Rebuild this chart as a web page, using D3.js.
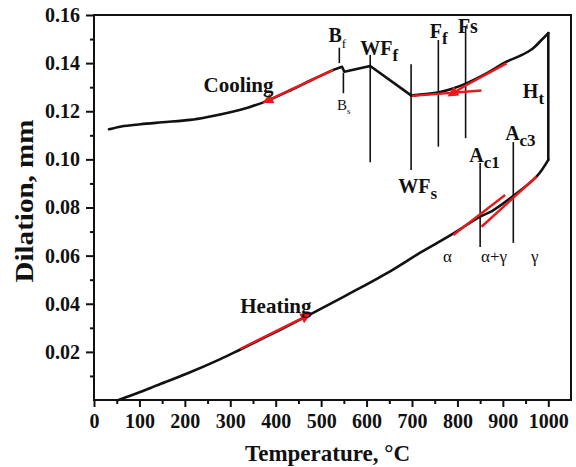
<!DOCTYPE html>
<html>
<head>
<meta charset="utf-8">
<script src="https://cdn.jsdelivr.net/npm/d3@7"></script>
<style>
  body { margin: 0; background: #fff; }
  svg { display: block; }
  text { font-family: "Liberation Serif", "Times New Roman", serif; }
</style>
</head>
<body>
<div id="chart"></div>
<script>
// colours
var black = '#111';
var red = '#e8191c';

// heating run (temperature, dilation)
var heatT = [54, 100, 139, 205, 278, 322, 410, 476, 560, 652, 718, 784, 850, 876, 916, 974, 1000, 1000];
var heatD = [0, 0.0032, 0.0061, 0.0110, 0.0170, 0.0210, 0.0292, 0.0356, 0.0440, 0.0535, 0.0612, 0.0684, 0.0762, 0.0785, 0.0838, 0.0928, 0.0998, 0.1525];

// cooling run
var coolT = [1000, 985, 966, 940, 908, 865, 820, 790, 762, 730, 698, 608, 551, 546, 527, 480, 430, 377, 340, 300, 250, 212, 150, 102, 60, 33];
var coolD = [0.1525, 0.1496, 0.1461, 0.1432, 0.1406, 0.1358, 0.1316, 0.1295, 0.128, 0.1271, 0.1266, 0.1388, 0.1364, 0.1385, 0.1372, 0.1331, 0.1285, 0.124, 0.1216, 0.1196, 0.1176, 0.1164, 0.1154, 0.1146, 0.1137, 0.1125];
// indices where the cooling trace has sharp corners (WFs, Bs notch)
var coolBreaks = [10, 14];

// transformation marker lines
var markT   = [540, 549, 608, 698, 758, 818, 850, 923];
var markTop = [0.1464, 0.136, 0.1434, 0.1395, 0.1496, 0.1551, 0.0985, 0.1072];
var markBot = [0.140, 0.1275, 0.0988, 0.0956, 0.1053, 0.1088, 0.0636, 0.0653];

// red guide lines / arrows
var redLines = [
    {pts: [[322, 0.0212], [472, 0.0353]], arrow: true},
    {pts: [[527, 0.1372], [377, 0.124]], arrow: true},
    {pts: [[791, 0.0686], [905, 0.0852]], arrow: false},
    {pts: [[853, 0.072], [974, 0.0928]], arrow: false},
    {pts: [[700, 0.1264], [853, 0.1286]], arrow: false},
    {pts: [[908, 0.1399], [820, 0.1309], [784, 0.1268]], arrow: true}
];

// annotation labels: main text, subscript, temperature, dilation
var labelMain = ['B', 'WF', 'WF', 'F', 'Fs', 'H', 'A', 'A', 'Cooling', 'Heating'];
var labelSub  = ['f', 'f', 's', 'f', '', 't', 'c3', 'c1', '', ''];
var labelT    = [516, 586, 670, 739, 801, 944, 905, 826, 241, 322];
var labelD    = [0.1488, 0.1434, 0.086, 0.1505, 0.1525, 0.1255, 0.108, 0.0989, 0.128, 0.0362];

// phase labels (plain)
var phaseText = ['\u03b1', '\u03b1+\u03b3', '\u03b3'];
var phaseT = [768, 852, 962];
var phaseD = 0.0574;

// axis ticks
var xTicks = d3.range(0, 1001, 100);
var xMinor = d3.range(50, 1000, 100);
var yTicks = [0.02, 0.04, 0.06, 0.08, 0.10, 0.12, 0.14, 0.16];
var yMinor = [0.01, 0.03, 0.05, 0.07, 0.09, 0.11, 0.13, 0.15];

var W = 576, H = 467;
var padL = 94, padR = 571, padT = 15, padB = 400;

var x = d3.scaleLinear().domain([0, 1050]).range([padL, padR]);
var y = d3.scaleLinear().domain([0, 0.16]).range([padB, padT]);

var svg = d3.select('#chart').append('svg')
    .attr('width', W)
    .attr('height', H);

svg.append('defs').append('marker')
    .attr('id', 'head')
    .attr('viewBox', '0 0 10 10')
    .attr('refX', 7)
    .attr('refY', 5)
    .attr('markerWidth', 6)
    .attr('markerHeight', 4.5)
    .attr('markerUnits', 'strokeWidth')
    .attr('orient', 'auto')
    .append('path')
    .attr('d', 'M0,0 L10,5 L0,10 Z')
    .attr('fill', red);

// frame
svg.append('rect')
    .attr('x', padL)
    .attr('y', padT)
    .attr('width', padR - padL)
    .attr('height', padB - padT)
    .attr('fill', 'none')
    .attr('stroke', black)
    .attr('stroke-width', 2);

// axes
function styleAxis(g) {
    g.select('.domain').remove();
    g.selectAll('line').attr('stroke', black).attr('stroke-width', 2);
    g.selectAll('text')
        .attr('fill', black)
        .style('font-size', '20px')
        .style('font-weight', 'bold');
}

svg.append('g')
    .attr('transform', 'translate(0,' + padB + ')')
    .call(d3.axisBottom(x).tickValues(xTicks).tickFormat(d3.format('d')).tickSize(7).tickPadding(7))
    .call(styleAxis);

svg.append('g')
    .attr('transform', 'translate(0,' + padB + ')')
    .call(d3.axisBottom(x).tickValues(xMinor).tickFormat('').tickSize(4))
    .call(styleAxis);

svg.append('g')
    .attr('transform', 'translate(' + padL + ',0)')
    .call(d3.axisLeft(y).tickValues(yTicks).tickFormat(d3.format('.2f')).tickSize(8).tickPadding(6))
    .call(styleAxis);

svg.append('g')
    .attr('transform', 'translate(' + padL + ',0)')
    .call(d3.axisLeft(y).tickValues(yMinor).tickFormat('').tickSize(4))
    .call(styleAxis);

// axis titles
svg.append('text')
    .attr('x', (padL + padR) / 2 - 5)
    .attr('y', 461)
    .attr('text-anchor', 'middle')
    .style('font-size', '23px')
    .style('font-weight', 'bold')
    .attr('fill', black)
    .text('Temperature, \u00b0C');

svg.append('text')
    .attr('transform', 'translate(33,' + 201 + ') rotate(-90)')
    .attr('text-anchor', 'middle')
    .attr('textLength', 163)
    .attr('lengthAdjust', 'spacingAndGlyphs')
    .style('font-size', '25px')
    .style('font-weight', 'bold')
    .attr('fill', black)
    .text('Dilation, mm');

// marker lines
var marks = markT.map(function(t, i) { return {t: t, a: markTop[i], b: markBot[i]}; });
svg.append('g').selectAll('line')
    .data(marks)
    .enter().append('line')
    .attr('x1', function(d) { return x(d.t); })
    .attr('x2', function(d) { return x(d.t); })
    .attr('y1', function(d) { return y(d.a); })
    .attr('y2', function(d) { return y(d.b); })
    .attr('stroke', black)
    .attr('stroke-width', 1.6);

// curves
var line = d3.line()
    .x(function(d) { return x(d[0]); })
    .y(function(d) { return y(d[1]); });

var smooth = d3.line()
    .x(function(d) { return x(d[0]); })
    .y(function(d) { return y(d[1]); })
    .curve(d3.curveCatmullRom.alpha(0.5));

var heat = heatT.map(function(t, i) { return [t, heatD[i]]; });
var cool = coolT.map(function(t, i) { return [t, coolD[i]]; });

// heating: smooth up to 1000 C, then straight up (Ht)
var heatPieces = [
    {pts: heat.slice(0, heat.length - 1), gen: smooth},
    {pts: heat.slice(heat.length - 2), gen: line}
];
// cooling: smooth / straight / smooth between the corners
var coolPieces = [
    {pts: cool.slice(0, coolBreaks[0] + 1), gen: smooth},
    {pts: cool.slice(coolBreaks[0], coolBreaks[1] + 1), gen: line},
    {pts: cool.slice(coolBreaks[1]), gen: smooth}
];

svg.append('g').selectAll('path')
    .data(heatPieces.concat(coolPieces))
    .enter().append('path')
    .attr('d', function(d) { return d.gen(d.pts); })
    .attr('fill', 'none')
    .attr('stroke', black)
    .attr('stroke-width', 2.6)
    .attr('stroke-linejoin', 'round')
    .attr('stroke-linecap', 'round');

// red lines
svg.append('g').selectAll('path')
    .data(redLines)
    .enter().append('path')
    .attr('d', function(d) { return line(d.pts); })
    .attr('fill', 'none')
    .attr('stroke', red)
    .attr('stroke-width', 2.4)
    .attr('marker-end', function(d) { return d.arrow ? 'url(#head)' : null; });

// labels
var labels = labelMain.map(function(m, i) {
    return {m: m, s: labelSub[i], t: labelT[i], d: labelD[i]};
});
var lab = svg.append('g').selectAll('text')
    .data(labels)
    .enter().append('text')
    .attr('x', function(d) { return x(d.t); })
    .attr('y', function(d) { return y(d.d); })
    .attr('fill', black)
    .style('font-weight', 'bold')
    .style('font-size', function(d) { return d.m.length > 2 ? '21px' : '20px'; });
lab.append('tspan').text(function(d) { return d.m; });
lab.append('tspan')
    .attr('dy', 6)
    .style('font-size', function(d) { return d.m === 'B' ? '13px' : '17px'; })
    .style('font-weight', function(d) { return d.m === 'B' ? 'normal' : 'bold'; })
    .text(function(d) { return d.s; });

// B_s (plain, small)
var bs = svg.append('text')
    .attr('x', x(535))
    .attr('y', y(0.1205))
    .attr('fill', black)
    .style('font-size', '15px');
bs.append('tspan').text('B');
bs.append('tspan').attr('dy', 4).style('font-size', '9px').text('s');

// phase labels
svg.append('g').selectAll('text')
    .data(phaseText)
    .enter().append('text')
    .attr('x', function(d, i) { return x(phaseT[i]); })
    .attr('y', y(phaseD))
    .attr('fill', black)
    .style('font-size', '17px')
    .text(function(d) { return d; });
</script>
</body>
</html>
